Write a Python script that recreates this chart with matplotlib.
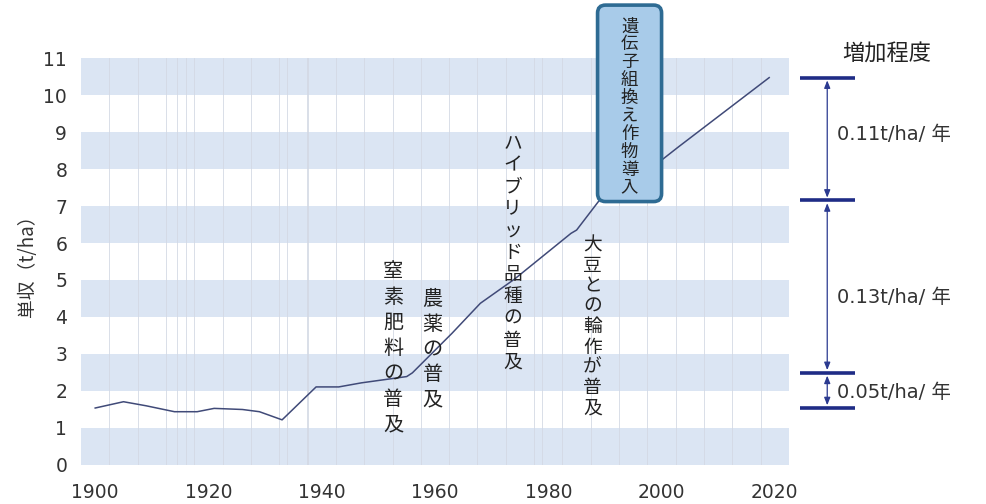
import matplotlib
matplotlib.use("Agg")
import matplotlib.pyplot as plt
import matplotlib.transforms as mtransforms
from matplotlib.patches import FancyBboxPatch

plt.rcParams['font.family'] = ['Noto Sans CJK JP', 'DejaVu Sans']
LATIN = ['DejaVu Sans', 'Noto Sans CJK JP']

# Corn yield (t/ha) by year
years = [1900, 1905, 1909, 1914, 1918, 1921, 1926, 1929, 1933, 1939, 1943, 1947,
         1955, 1956, 1963, 1968, 1974, 1984, 1985, 1989, 2000, 2003, 2019]
yields = [1.54, 1.71, 1.60, 1.44, 1.44, 1.53, 1.50, 1.44, 1.22, 2.11, 2.11, 2.22,
          2.39, 2.49, 3.56, 4.37, 5.02, 6.26, 6.35, 7.15, 8.24, 8.60, 10.47]

x_ticks = [1900, 1920, 1940, 1960, 1980, 2000, 2020]
y_ticks = list(range(0, 12))

# Yield levels marking the growth periods and their rates
level_years = [2019, 1989, 1956, 1900]
rate_labels = ["0.11t/ha/ 年", "0.13t/ha/ 年", "0.05t/ha/ 年"]

events = [
    ("窒素肥料の普及", 1952.6, 3.15),
    ("農薬の普及", 1959.6, 3.11),
    ("ハイブリッド品種の普及", 1973.7, 5.74),
    ("大豆との輪作が普及", 1987.8, 3.74),
]
gm_label = "遺伝子組換え作物導入"

fig = plt.figure(figsize=(9.87, 5.04), dpi=100)
ax = fig.add_axes([0.0821, 0.0774, 0.7173, 0.8075])

x0, x1 = 1897.5, 2022.5
ax.set_xlim(x0, x1)
ax.set_ylim(0, 11)

# alternating horizontal bands
for k in range(0, 11, 2):
    ax.axhspan(k, k + 1, color='#dbe5f3', lw=0, zorder=0)

# faint vertical grid
vgrid = [1902.5 + 5 * i for i in range(24)] + [1914.5, 1916, 1933.8, 1937.4, 1978.9]
for gx in vgrid:
    ax.axvline(gx, color='#d3d9e4', lw=0.6, zorder=1)

ax.plot(years, yields, color='#404a78', lw=1.1, zorder=3)

for s in ax.spines.values():
    s.set_visible(False)
ax.set_xticks(x_ticks)
ax.set_yticks(y_ticks)
ax.tick_params(axis='both', length=0, labelsize=13.5, colors='#333333')
ax.tick_params(axis='x', pad=13)
ax.tick_params(axis='y', pad=10)
for lab in ax.get_xticklabels() + ax.get_yticklabels():
    lab.set_family(LATIN)
ax.set_ylabel("単収（t/ha）", fontsize=13.5, color='#333333', labelpad=4)


def vertical_text(text, x, y, size, step_px, color='#222222', z=5):
    n = len(text)
    step_pt = step_px * 0.72
    for i, ch in enumerate(text):
        off = ((n - 1) / 2 - i) * step_pt
        ax.annotate(ch, xy=(x, y), xycoords='data', xytext=(0, off),
                    textcoords='offset points', ha='center', va='center',
                    fontsize=size, color=color, zorder=z, annotation_clip=False)


sizes = [14.5, 14.5, 13.5, 13.5]
steps = [25.5, 25, 21.9, 20.4]
for (txt, ex, ey), fs, st in zip(events, sizes, steps):
    vertical_text(txt, ex, ey, fs, st)

# boxed label for GM crops
bx, by, bw, bh = 1988.7, 7.12, 11.3, 5.31
box = FancyBboxPatch((bx, by), bw, bh,
                     boxstyle="round,pad=0,rounding_size=1.4",
                     mutation_aspect=5.667 / 37,
                     fc='#a8cbe9', ec='#2e6b93', lw=2.6, zorder=6, clip_on=False)
ax.add_patch(box)
vertical_text(gm_label, bx + bw / 2, by + bh / 2 - 0.1, 12.5, 17.9, z=7)

# growth-rate brackets on the right
trans = mtransforms.blended_transform_factory(ax.transAxes, ax.transData)
levels = [yields[years.index(y)] for y in level_years]
for lv in levels:
    ax.plot([1.0155, 1.093], [lv, lv], transform=trans, color='#1f2c86',
            lw=2.6, clip_on=False, zorder=5, solid_capstyle='butt')
for top, bot in zip(levels[:-1], levels[1:]):
    ax.annotate('', xy=(1.054, top), xytext=(1.054, bot),
                xycoords=trans, textcoords=trans,
                arrowprops=dict(arrowstyle='<|-|>,head_length=0.45,head_width=0.18',
                                color='#2b3a90', lw=0.9, shrinkA=2, shrinkB=2),
                annotation_clip=False)

rate_y = [8.92, 4.54, 1.97]
for lab, ry in zip(rate_labels, rate_y):
    ax.text(1.068, ry, lab, transform=trans, fontsize=14, color='#333333',
            family=LATIN, ha='left', va='center', clip_on=False)

ax.text(1.138, 11.11, "増加程度", transform=trans, fontsize=16, color='#222222',
        ha='center', va='center', clip_on=False)

fig.savefig("out.png", dpi=100, facecolor='white')
